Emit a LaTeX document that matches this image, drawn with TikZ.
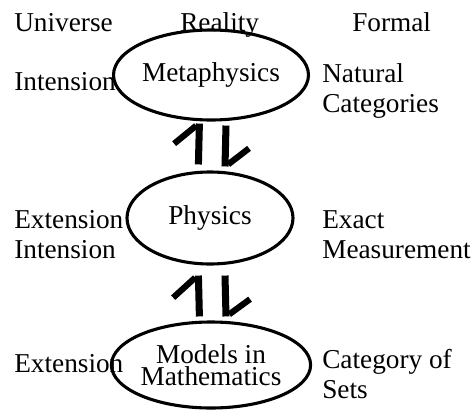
\documentclass[tikz,border=0pt]{standalone}
\usepackage{fontspec}
\setmainfont{Liberation Serif}
\usepackage{tikz}
\usetikzlibrary{positioning, arrows.meta, shapes.geometric}

\begin{document}
\begin{tikzpicture}[
    oval/.style={draw, ellipse, line width=2.2pt, inner sep=0pt, align=center},
    lbl/.style={anchor=base west, inner sep=0pt, align=left},
    harp/.style={line width=5pt},
    barb/.style={line width=4.4pt},
    font=\fontsize{19.4}{21.3}\selectfont
  ]
  \useasboundingbox (0,0) rectangle (11.825,-10.3);

  % column headings
  \node[lbl] (universe) at (0.35,-0.775) {Universe};
  \node[lbl] (reality) at (4.5,-0.775) {Reality};
  \node[lbl] (formal) at (8.8,-0.775) {Formal};

  % the three levels
  \node[oval, minimum width=4.15cm, minimum height=2.25cm] (meta) at (5.275,-1.875) {Metaphysics};
  \node[oval, minimum width=4.15cm, minimum height=2.3cm] (phys) at (5.25,-5.45) {Physics};
  \node[oval, minimum width=4.2cm, minimum height=2.15cm,
        font=\fontsize{19.4}{15.6}\selectfont] (models) at (5.275,-9.125) {Models in\\Mathematics};

  % left and right columns (base = last line)
  \node[lbl] (int1) at (0.35,-2.25) {Intension};
  \node[lbl] (natcat) at (8.05,-2.8) {Natural\\Categories};
  \node[lbl] (extint) at (0.35,-6.45) {Extension\\Intension};
  \node[lbl] (exact) at (8.05,-6.45) {Exact\\Measurement};
  \node[lbl] (ext2) at (0.35,-9.3) {Extension};
  \node[lbl] (catsets) at (8.05,-9.95) {Category of\\Sets};

  % harpoons between levels
  \draw[harp] ([xshift=-0.29cm,yshift=0.15cm]phys.north) -- ([xshift=-0.29cm,yshift=-0.05cm]meta.south) coordinate (up1);
  \draw[barb] ([xshift=-2.3pt,yshift=-1.5pt]up1) -- ++(-0.55,-0.45);
  \draw[harp] ([xshift=0.375cm,yshift=-0.1cm]meta.south) -- ([xshift=0.375cm,yshift=0.1cm]phys.north) coordinate (dn1);
  \draw[barb] ([xshift=2.3pt,yshift=1.5pt]dn1) -- ++(0.52,0.4);
  \draw[harp] ([xshift=-0.29cm,yshift=0.1cm]models.north) -- ([xshift=-0.29cm,yshift=-0.25cm]phys.south) coordinate (up2);
  \draw[barb] ([xshift=-2.3pt,yshift=-1.5pt]up2) -- ++(-0.55,-0.5);
  \draw[harp] ([xshift=0.375cm,yshift=-0.25cm]phys.south) -- ([xshift=0.375cm,yshift=0.1cm]models.north) coordinate (dn2);
  \draw[barb] ([xshift=2.3pt,yshift=1.5pt]dn2) -- ++(0.52,0.38);
\end{tikzpicture}
\end{document}
